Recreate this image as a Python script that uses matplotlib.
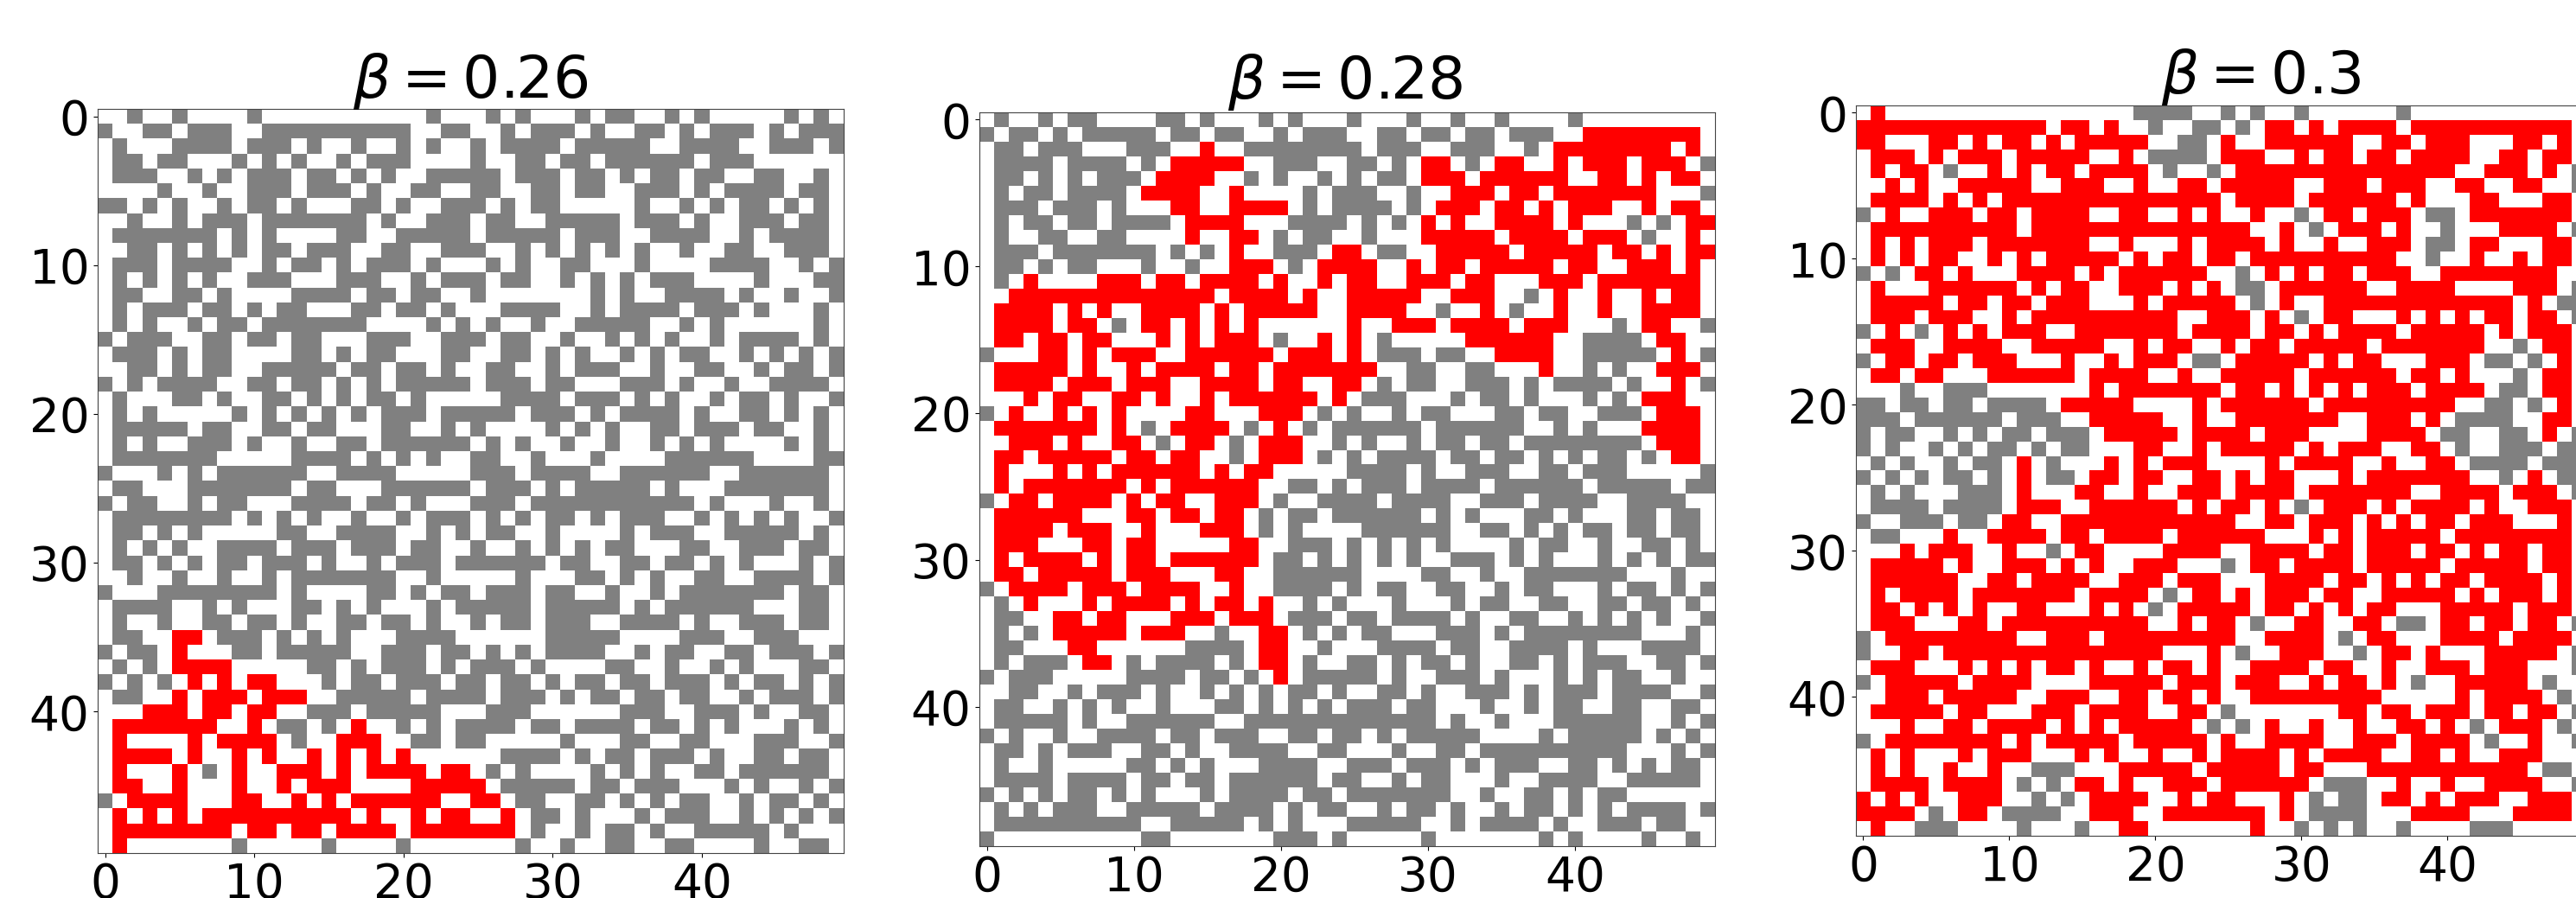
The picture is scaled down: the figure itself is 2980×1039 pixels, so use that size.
"""Three occupancy grids for beta = 0.26, 0.28, 0.3, with the spanning cluster in red."""

import matplotlib

matplotlib.use("Agg")

import matplotlib.pyplot as plt
import numpy as np
from matplotlib.colors import ListedColormap

WIDTH, HEIGHT = 2980, 1039

# one string per row: "." empty, "#" occupied, "R" in the cluster
GRID_026 = [
    "..#..#....#...........#.. .#.#...#.##..#.#.....#.#.",
    "#..##.###..##########..## ..#.###.#..##.#.###.#.###",
    ".#...####.###.#..#..#.#.. #.####.#####..####..###.#",
    ".##.##...#.#.#..#.###.... #..##.##.######.###......",
    ".###..#.#.###.##.#.#..### ##.###.##.#.##.##..##..#.",
    "....#..#..###.###.#..##.. ##..##.##..###.#.####.##.",
    "##.#.#..#.##.#...##.#..## #.#.##.....#..#.#.##.#.#.",
    "..#..#.###.#######.#..### .##..#####.###.#..###.##.",
    ".#######.#.#....##..##### .#####.###..####..#.####.",
    "..##.#.#.#.##.###..##..## #..#.#.#.#.#..#..##..###.",
    ".###.####..#.##.#.###.#.. .#.#..##...#....####..#.#",
    ".#.#.#.#..###...###..#.## #.##..#.#.#.###....#...##",
    ".##..##.#....####.##.##.. #.......#.#..####.#..#..#",
    ".#.###.##.#.##...##.##.#. ..####..#.####.###.#...#.",
    ".#.#..#.##.#######....#.# .#..#..#####..#.#......#.",
    "#.###..##.##.##...###..## #.##..#..#.#.#..#.####.#.",
    ".###.#.##....##.#.##...## ..##.#.#..#.#.##..#.#.#.#",
    "..##.#.##..#####.##.##.#. .##..#.###..#..##..#.##.#",
    "#.#.####..##.##.#.#.##### .###.##...###.#..#..####.",
    ".#...##.#..##.#.#.##.#... ..####.###.#.#..#.##.#..#",
    ".#.#.....#.#.#.#.#.###.## ###.###.#.####.#..##.#.#.",
    ".#####.##..##.##...##..#. #....#.#.#..##.###.##..#.",
    ".#.#..###.#..#..##.###### .#.#..#..#..#.#.#....#.#.",
    ".#######.....####.#.#.#.. ##..#...#....######....##",
    "#...#.#.######..####..... ###.####..######..######.",
    ".##...#######.##...###### .###.#.#####.#...#######.",
    "#.##..#.##...####.##.#... ###.###########.#...#..#.",
    ".########.#.#.#..#..#.### .#.#.##.#.###..#.#.#.#..#",
    ".##.#.#.....##..####..#.# .##..#....#.###..#####.#.",
    ".#.#.#..####.###.###.##.. #..#.#.#.##...##..###.##.",
    ".##.#.#.##.###.#..#.###.# #####.##..##.##.#.#...#.#",
    "..#..#..#..#.#######..#.. ...#...##.#.#..##..####.#",
    "#...########.#....##.#.## .###.##..#..#.#######.##.",
    ".####..#.#...##.#.#...#.# ####.#####.#.######...##.",
    ".#..#..##.##.#..##.##.#.. #.##.###..####.#..###.##.",
    ".##..RR.###.#.#.#...####. .....#####....###..###...",
    "#.##.R...##.#####..###.## .#.#.####..#.##..##.###.#",
    ".#.#.RRRR.....##.#.###.#. ###.#....##..#..#.#...##.",
    "#.#.#.R.R.RR...#.##.###.# #.##.#.##.##.###.#.##.#.#",
    ".##..R.RRR.RRR..#####.### #.###.#.##.##.##..#.###.#",
    "...RRR.RR.RR..###.#####.. .###......###..###.#..##.",
    ".RRRRRRR..R.##.#.R..#.#.# ###.##.####.##.#.#...#.#.",
    ".R....R.RRRR.#..RRR..##.# #.....#...##..##...###..#",
    ".RRRR.R..R.R..R.R.R.R.... ..####.#.##.###.#..##.##.",
    ".R...R.#.R..RRR.R.RRRR.RR .#.#....#.#.#..##.######.",
    ".RR..R...R..R.RRR....RRRR R.#####.##.###...#.#..#.#",
    "#.RRRR...RR..R.R.RRRRRR.. RR.##..##.#.#.##..#.##.#.",
    ".R.R.R.RRRRRRRRRR.R..R.RR ..R.##.#...#.###..#.#.#.#",
    ".RRRRRRRR.RR.RR.RRRR.RRRR RRR.#..#.##.#..#####.#...",
    ".R.......#.....#....#.... ...#..#..##..##....#..##.",
]

GRID_028 = [
    ".#..#.##....##.#...#.#... #...#..#..#....#.........",
    "#.##.#.#####.##.##..#.### ..##.##.##.###..RRRRRRRR.",
    ".##.###...###..R..####### #.###..###..#.RRRRRRRR.R.",
    ".####.####.#.RRRRR..###.. ##.#.RR.#.RR..R.RRR.RRR.#",
    ".##.#.#.###.RRRR..#.#..#. #.##.RRR.RRRRRR..RR.R.RR.",
    ".#.##.####.RRRR..R....#.# ##..#..RRR.RR.RRRRRRR...#",
    ".###.###.#...RR..RRRR.#.# ###.#.RRR.RR.R.RRR..R.RR.",
    ".#.##.##.####.RRRR...#### .#.#.R.R..RRRR.R...#.#.RR",
    ".#..##..##....R..RR.#.##. .#...RRRRR.RRRR.RRR.#..R.",
    ".###.#######.#.#.R..###.R R.##..RRRRR.RRRRR.RR.R.RR",
    ".##.#.##...#..#..RRR.#.RR RR..R.RR.RRRRR.RR..RRR.R.",
    ".#.R....RRR.RR.RRRR.R..R. RR..RRR.RR...RRR.RRRRRRR.",
    "..RRRRRRRRRRRRRR.RRRR.R.. RRRRR..RRR..#.R..R..R.RR.",
    ".RRRR.R.R..RRRR.R.RRRRR.. RRRR..#..R.#..R..R..RRRR.",
    ".RRRR.RR.#.RR.R.R.R...... R..RRR.RRRR.RRR...#.RR..#",
    ".RR.RR.RR...R.R.RRR.#..R. R.#.....RRRRRR..####.RR..",
    "#...RR.R.RRR..RRRRRR.RRR. R.###.##..RRRR..#####.R.#",
    ".RRRRR.R..R.RRRR.RR.RRRRR RR..##..##...R..#.#..RRR.",
    ".RRRR.RRR.RRR..RRRR.RR..R R.#.##..###.#.####.#..R.#",
    "...R.RR..RR.R..R.RRRRRR.R .###...#.##.#...#.#.RRR..",
    "#.R..R.R.R....RR...RRR.#. #..#.##...##.##..###.RRR.",
    ".RRRRRRR.R.#.RRRR.#.R.#.# #####.######..#.#...RRRR.",
    "..RRR.R..RR.#.RR.#.RRR..# .#..#.##.##.########.RRR.",
    ".RR.RRRRR.RR.RR..#.RRR.#. #.####.##.##.#.#.##.#.RR.",
    ".R...R.R.RRRRRR.R.RR..... ####.#..###..##.###.....#",
    ".R.RRRRRRR.R.RRRRRR..##.# .###.####.######.#####.##",
    "#.RR.RRRR.R.RR..RRR.#..## ##.####..###.####..####..",
    ".RRRRRR...RR.RR.RR.#.##.# #####.#.#...##.#...##.##.",
    ".RRRR.RRR..R...RRR.#.#... .######..##.#.#.##.##.##.",
    ".RRR...RR.RR.....RR..###. #.#.#.#....#.##..#..##.#.",
    ".R.RRRR.R.RR.RRRRRR.##.#. #.#.#..###.#.#...#.#.#.##",
    ".RR.RRRRR.RRR...RR..##### #....##..#..#######...#..",
    "#.RRRR.RRR.RRRR..R..####. #.##..##..#.##...#.##.#.#",
    ".#.R...R.RRRR.R.RR.R..#.# ...#...#.##..##..##.##.#.",
    ".##..RR.RR...RRR.RRR.###. ##.####.#..##..#.#.#.#..#",
    ".#.#.RRRRR.RRR..#..RR.#.# .##...###.#.########...#.",
    ".##...RR......####.RR..#. ..####.##..####.#...####.",
    ".#.###.RR.#.####.#.RR.#.. ##.#.##.#..##.#.###..##.#",
    "#.###.....####.##.#.R.### ##.#..###.#...#.#.##..#..",
    "..##..#.###.#..#.#.#.##.# ..##.#..###.#.###.####..#",
    ".##..#.#.#..#...##.#.#.#. ###.##...#..#.##..##..##.",
    ".#####.#..######..####### ######.#..#...######..#.#",
    "#.#..#..####.##.###..##.# #.#.#####....#.#####.#.#.",
    ".##.#.###..##.#..####..## ...#..##.##########...#.#",
    ".#..#.....##.#.#...####.. ###.###.#.###..##.#.#.##.",
    ".####.####.##.##.######.# #..#.##...#..####..#####.",
    "#.#.#.##.#.#...#.####.##. #######..#..##.#.##......",
    ".#.#.###..#####.####.#.## ..#.##.#..#.##.#.#.####.#",
    ".##########..#####.#.#... #####..#.####.#..###.##..",
    "#..........##.......###.# .....#.......#.#....#..#.",
]

GRID_030 = [
    ".R.................####.. #.#..#......#............",
    "RRRRRRRRRRRRR.RR.R..#..## .#.RR.R.RRRR.RRRRRRRRRRR.",
    "RR...RR.R.RR.R.RRRRR..##. R..RRRRRR..RR.RRR...RR.R.",
    ".RRR.R.RRR.RRRRR..R.####. RRR..R.RR.RR.RRRR..RR.RR.",
    ".R.RR.#..R.R.RR.RRRR.#..# .RRRRRRRRRRRRRRR..RRR.R.#",
    "..R.R..RRRRR..RRR..R..RR. RRRRR..RRR.RRR..RR..RR..#",
    ".RRRR.R.R.RRRRRRRRRRRRRRR .RRRR.RRRRRR.R...RR...RR.",
    "#.R..RRR.RR.RRRR..RR..R.R ..R..#.RR.RRR.##.RRRRRRR.",
    ".RRRRRRRRRR.RRRRRRRRRRRRR RR..R.#.RRR.R..#...RRRR.#",
    ".R.R.RRR.RRRRRRR..R...R.R RRR.R..R..RRR.##.RR...RR.",
    ".R.R.RR..R.R.RRRRR.R.RR.R R.RRRRRRRRRR..#..R..R.RR.",
    "#.#.RR.R...RRRR.R.RRRRRR. .#.R.R.RR.RRR..RRRRRRRR..",
    ".R...RRRRRR.R.RR..RRR.R.R .##.RRRRRR..RRRR....RRR.#",
    ".RRRRR.RR.RR.RRR...R.RRRR R.#.R..RRRRRRRRRRRRR.R.##",
    ".RRR.RRR..R.RRRRRRRRRR..R RR.R.#.RR...R.R.R.RR.RR.#",
    "#.R.#.R.R.RRR..RRRRRRR.RR RR.RR.R.RRRR.RRRRR.R.RRR.",
    ".RRR..RRRR..RRRRR..R.RR.. R.RR.RRRRR.RRRRRRR..#.RR.",
    "#.RR.RR.RRR...R..R.RRR.## .RRRRR.R.RR...RRR.##.#.R.",
    ".RR.RR...RRRRRR.RRRR..R.. RRRRR.RRRRRR.RR.R...#.RR.",
    "...#..###.......R.RRRRRRR .RR.R.R.R.RRR.RRRR.##.RR.",
    "##.##.##.####.RRRRR....R. RRRRRR.RRRRRRRRR..##.#.R.",
    "###.######.###..RRRRR..R. .RRRRRRR..RRR.R.####..RR.",
    "#.##..#.#.##.###.RRRRR.RR RR.RRR....RRRR.##..##.R.#",
    "#.#..#.#.##.#.##...RR..R. RRRRR.R.RRR..RR.#..###.##",
    ".#.#..#.##.R.#...R.R.RRR. ...R.RRRR..R..RR.####.###",
    "#.#.#.##.#.R.##.RR.RR..RR .R.RR...R.RRRRRRR..#.R.##",
    ".#.#...###.R...RR..R..RRR .RRRR.RRRRRRR..RRRR.RRR.#",
    ".####.####.RRR..RRRRRR.R. RR.R.#.RRR.R.RRRR.R..RRR.",
    "#..###.##.RR..RRRRRRRRRRR R..RR.RRR.R.R.RR.RRR...R.",
    ".##...R..RRRR.RR.RRRR.RRR RRR...R.R.RRRRR.RRRRRRRR.",
    "...R.RRR..R..#.RR....RRRR ..RRRR.RR.RRR.RR.R.RR.RR.",
    ".RRRRR.R..RRR.R.R..RRR... #.RR.RRRR.RRRRR.RRRRR.RR.",
    ".RRRRRR..RR.RRRR..RRR.RRR ...RRRR.RR.R.R.RR.RRRR.R.",
    ".R.RRRR.RRRRRRR.RRRR.#.RR .R.RRR.RR..RRRRR.R.RRR.R.",
    ".RR.R.R.R..RR...R.R.#.RRR RR.RR.R.R.RR...RRRRR.RRR.",
    ".RRR...RR.RRRRRRRRRR..R.R R.#..RR..RR.##.RR.RR.RR.#",
    "#.RRRRRRRRR..RRR.RRRRRRRR R..RRRR.#.RR...RRRR.RRRR.",
    "#..RR.RRRRRRRRRRRRRRR...R .#..RRR..#.RR.R...RRRRR.#",
    ".RRR...R.R.R.RR.R..R.RR.R ..RRRR.RR..R..RRR.RRR...#",
    "#.RRRRR.RRRR....RRRRR.RRR .RRR..R.RR.R.#..RRRRR.#..",
    "..RRR.RRRRR..RRR..RR.RR.R ..RRRRRRRRR.....R.RRRR.#.",
    ".RRRRR.RR...RRR.RRRR..RR. #.......RR.RR.RRR.RR.RR.#",
    "...R..RR.RRRR.R.R.RRRRR.# .#.R..R..R..RR.R.#.RRR.#.",
    "#.RRRRRRRR.R.RRRRR.RRRRR. R..RRRR..RRR.RRRR.#..R..#",
    ".R.R...R.RRR...R.R..R..R. RRRR.R.RRRR..RR.R..RRR...",
    ".R.R..R..R..###...RRRRR.R RRRR.RR...RRRRRRRRRRR.##.",
    ".RRRR.RRRR.#.#.RR.R..RRR. RRRRRR.###..R..R..RRRR..#",
    "R.R.R..RRR..#.#.RRRR..R.R R...R.#.##.RR.R.RRR..RRR.",
    "RRRR.#.RR.####..RRR..RRRR RRR.R.####...RRRR...RRRR.",
    ".R..###....#...#..RR..... ..R..#.#.#..#....###.....",
]

GRIDS = [GRID_026, GRID_028, GRID_030]
TITLES = [r"$\beta = 0.26$", r"$\beta = 0.28$", r"$\beta = 0.3$"]
TICKS = [0, 10, 20, 30, 40]

# axes boxes in pixels of the full picture: left, top, right, bottom
BOXES = [(113, 126, 976, 987), (1133, 130, 1984, 979), (2147, 122, 2992, 967)]
TITLE_X = [544, 1556, 2616]
TITLE_Y = [113, 114, 108]

CODES = {".": 0, "#": 1, "R": 2}
cmap = ListedColormap(["white", "gray", "red"])

fig = plt.figure(figsize=(WIDTH / 100, HEIGHT / 100), dpi=100)

for rows, title, box, tx, ty in zip(GRIDS, TITLES, BOXES, TITLE_X, TITLE_Y):
    grid = np.array([[CODES[c] for c in row.replace(" ", "")] for row in rows])
    left, top, right, bottom = box
    ax = fig.add_axes(
        [left / WIDTH, 1 - bottom / HEIGHT, (right - left) / WIDTH, (bottom - top) / HEIGHT]
    )
    ax.imshow(grid, cmap=cmap, vmin=0, vmax=2, interpolation="nearest", aspect="auto")
    ax.set_xticks(TICKS)
    ax.set_yticks(TICKS)
    ax.tick_params(labelsize=39.5)
    for spine in ax.spines.values():
        spine.set_color("#444444")
    fig.text(tx / WIDTH, 1 - ty / HEIGHT, title, fontsize=49, ha="center", va="baseline")

fig.savefig("out.png", dpi=100)
